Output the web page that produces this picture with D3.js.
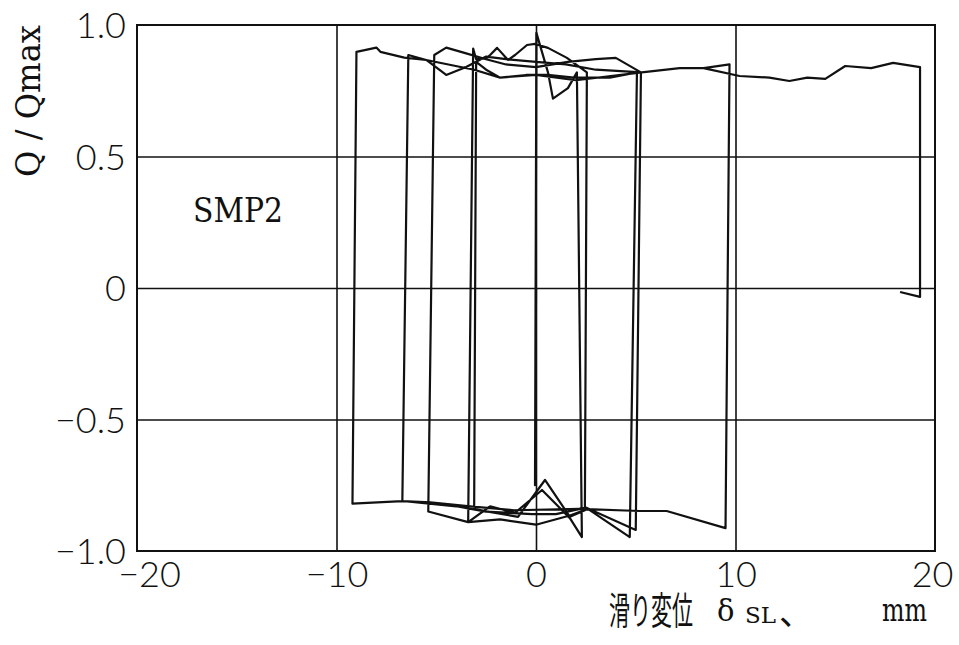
<!DOCTYPE html>
<html>
<head>
<meta charset="utf-8">
<script src="https://cdn.jsdelivr.net/npm/d3@7"></script>
<style>
  html, body { margin: 0; padding: 0; background: #fff; }
  svg { display: block; }
</style>
</head>
<body>
<svg id="chart" width="959" height="645"></svg>
<script>
// Axis ticks and grid
const xTicks = [-20, -10, 0, 10, 20];
const yTicks = [-1.0, -0.5, 0, 0.5, 1.0];
const xGrid = [-10, 0, 10];
const yGrid = [-0.5, 0, 0.5];

// Load–slip record, one array per half-cycle: [slip displacement δSL (mm), Q/Qmax]
const firstLoad = [[0, 0], [-0.05, -0.75], [0.02, 0.97], [0.6, 0.82], [0.85, 0.72], [1.6, 0.76], [2.05, 0.82]];
const reverse1 = [[2.3, -0.947], [1.7, -0.875], [0.3, -0.768], [-1.05, -0.855], [-2.3, -0.83], [-3.4, -0.89]];
const forward2 = [[-3.15, 0.91], [-3.0, 0.87], [-2.5, 0.873], [-2.3, 0.886], [-1.95, 0.913], [-1.4, 0.867],
                  [-1.05, 0.886], [-0.45, 0.924], [-0.05, 0.928], [0.6, 0.913], [1.55, 0.875], [2.55, 0.82]];
const reverse2 = [[2.45, -0.845], [1.7, -0.87], [0.45, -0.73], [-0.9, -0.87], [-2.4, -0.85], [-3.1, -0.84]];
const forward3 = [[-3.0, 0.86], [-2.5, 0.83], [-1.8, 0.80], [-0.5, 0.81], [0.7, 0.81], [1.9, 0.80],
                  [3.7, 0.80], [5.06, 0.82]];
const reverse3 = [[4.7, -0.947], [2.6, -0.84], [1.7, -0.865], [0, -0.90], [-1.8, -0.88], [-3.4, -0.89], [-5.4, -0.85]];
const forward4 = [[-5.1, 0.886], [-4.5, 0.914], [-3.5, 0.892], [-2.5, 0.87], [-1.5, 0.85], [0, 0.84],
                  [1.6, 0.86], [3.0, 0.87], [4.0, 0.875], [5.26, 0.82]];
const reverse4 = [[5.0, -0.92], [2.5, -0.835], [1.0, -0.86], [-0.2, -0.86], [-2.5, -0.85], [-4.0, -0.83], [-6.7, -0.81]];
const forward5 = [[-6.4, 0.886], [-5.5, 0.867], [-4.5, 0.81], [-3.5, 0.84], [-2.5, 0.88], [-1.5, 0.87],
                  [0, 0.86], [1.5, 0.85], [3.0, 0.83], [5.3, 0.82], [7.2, 0.836], [8.4, 0.836], [9.7, 0.85]];
const reverse5 = [[9.5, -0.913], [6.55, -0.848], [5.2, -0.848], [2.2, -0.84], [-1.1, -0.845], [-3.3, -0.83],
                  [-5.3, -0.815], [-6.7, -0.81], [-9.2, -0.82]];
const finalPush = [[-9.0, 0.898], [-8.0, 0.914], [-7.8, 0.898], [-6.6, 0.876], [-5.5, 0.867], [-3.1, 0.83],
                   [-1.8, 0.80], [0, 0.81], [2.0, 0.79], [5.3, 0.82], [7.2, 0.836], [8.4, 0.836], [10.2, 0.806],
                   [11.7, 0.80], [12.7, 0.787], [13.6, 0.80], [14.5, 0.795], [15.5, 0.844], [16.8, 0.836],
                   [17.9, 0.856], [19.25, 0.84], [19.25, -0.034], [18.25, -0.015]];

const record = [].concat(firstLoad, reverse1, forward2, reverse2, forward3, reverse3,
                         forward4, reverse4, forward5, reverse5, finalPush);

const svg = d3.select("#chart");
const plot = { left: 137, right: 935, top: 25, bottom: 551 };
const x = d3.scaleLinear().domain([-20, 20]).range([plot.left, plot.right]);
const y = d3.scaleLinear().domain([-1, 1]).range([plot.bottom, plot.top]);
const ink = "#111";
const numFont = "Lato, 'Open Sans', sans-serif";
const serif = "'DejaVu Serif', serif";
const cjk = "'Noto Sans CJK JP', sans-serif";
const fmtY = d => d === 0 ? "0" : d3.format(".1f")(d);

// Grid lines
svg.append("g")
  .attr("transform", `translate(0,${plot.bottom})`)
  .call(d3.axisBottom(x).tickValues(xGrid).tickSize(-(plot.bottom - plot.top)).tickFormat(""))
  .call(g => g.select(".domain").remove())
  .call(g => g.selectAll("line").attr("stroke", ink).attr("stroke-width", 1.6));
svg.append("g")
  .attr("transform", `translate(${plot.left},0)`)
  .call(d3.axisLeft(y).tickValues(yGrid).tickSize(-(plot.right - plot.left)).tickFormat(""))
  .call(g => g.select(".domain").remove())
  .call(g => g.selectAll("line").attr("stroke", ink).attr("stroke-width", 1.6));

// Frame
svg.append("rect")
  .attr("x", plot.left).attr("y", plot.top)
  .attr("width", plot.right - plot.left).attr("height", plot.bottom - plot.top)
  .attr("fill", "none").attr("stroke", ink).attr("stroke-width", 2);

// Tick labels
const yAxis = svg.append("g")
  .attr("transform", `translate(${plot.left},0)`)
  .call(d3.axisLeft(y).tickValues(yTicks).tickSize(0).tickPadding(11).tickFormat(fmtY));
yAxis.select(".domain").remove();
yAxis.selectAll("text")
  .attr("font-family", numFont).attr("font-size", 36).attr("font-weight", 300)
  .attr("fill", ink).attr("dy", "0.36em");

const xAxis = svg.append("g")
  .attr("transform", `translate(0,${plot.bottom})`)
  .call(d3.axisBottom(x).tickValues(xTicks).tickSize(0).tickPadding(10).tickFormat(d3.format("d")));
xAxis.select(".domain").remove();
xAxis.selectAll("text")
  .attr("font-family", numFont).attr("font-size", 36).attr("font-weight", 300).attr("fill", ink)
  .attr("dx", d => d === -20 ? 12 : (d === 20 ? -3 : 0));

// Hysteresis trace
svg.append("path")
  .datum(record)
  .attr("d", d3.line().x(d => x(d[0])).y(d => y(d[1])))
  .attr("fill", "none").attr("stroke", ink).attr("stroke-width", 2.2)
  .attr("stroke-linejoin", "round");

// Specimen label
svg.append("text")
  .attr("x", 193).attr("y", 222)
  .attr("font-family", serif).attr("font-size", 33)
  .attr("textLength", 90).attr("lengthAdjust", "spacingAndGlyphs")
  .attr("fill", ink).text("SMP2");

// Y-axis title
svg.append("text")
  .attr("transform", "translate(40,177) rotate(-90)")
  .attr("font-family", serif).attr("font-size", 33)
  .attr("textLength", 152).attr("lengthAdjust", "spacingAndGlyphs")
  .attr("fill", ink).text("Q / Qmax");

// X-axis title
const xt = svg.append("g").attr("fill", ink);
xt.append("text").attr("x", 609).attr("y", 624)
  .attr("font-family", cjk).attr("font-size", 38)
  .attr("textLength", 84).attr("lengthAdjust", "spacingAndGlyphs").text("滑り変位");
xt.append("text").attr("x", 717).attr("y", 621)
  .attr("font-family", serif).attr("font-size", 29).text("δ");
xt.append("text").attr("x", 745).attr("y", 623)
  .attr("font-family", serif).attr("font-size", 23)
  .attr("textLength", 31).attr("lengthAdjust", "spacingAndGlyphs").text("SL");
xt.append("text").attr("x", 779).attr("y", 625)
  .attr("font-family", cjk).attr("font-size", 34).text("、");
xt.append("text").attr("x", 882).attr("y", 621)
  .attr("font-family", serif).attr("font-size", 32)
  .attr("textLength", 45).attr("lengthAdjust", "spacingAndGlyphs").text("mm");
</script>
</body>
</html>
